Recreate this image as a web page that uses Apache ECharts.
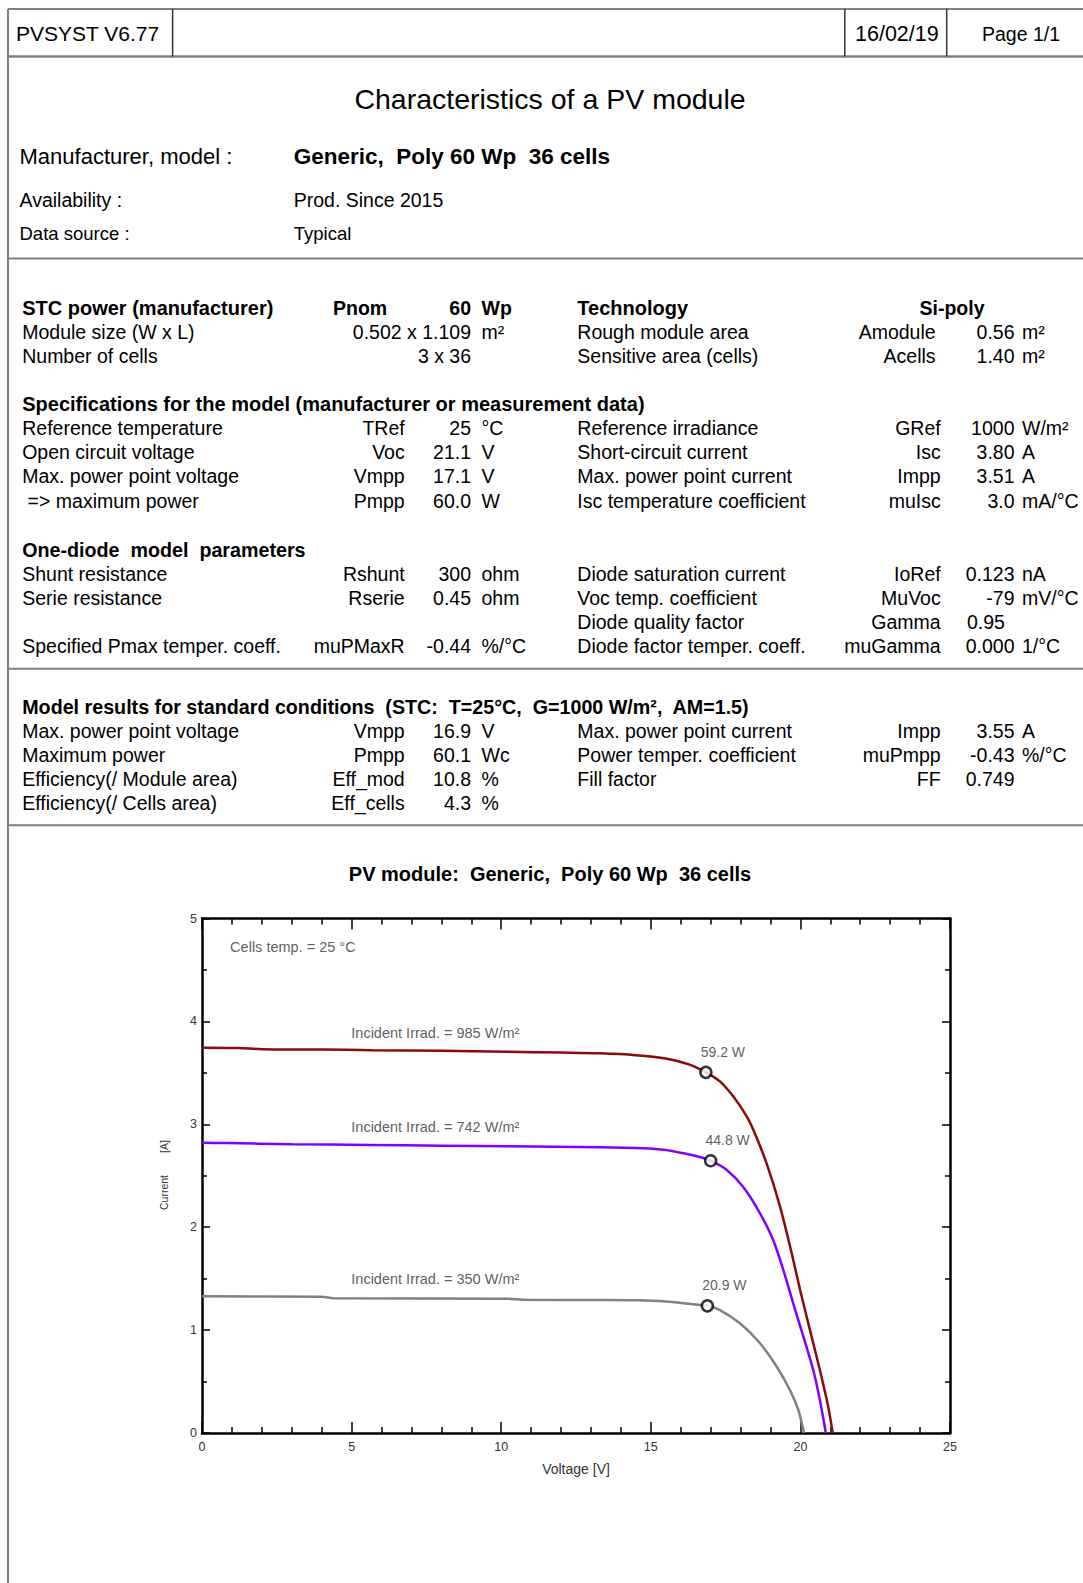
<!DOCTYPE html>
<html>
<head>
<meta charset="utf-8">
<title>Characteristics of a PV module</title>
<script src="https://cdn.jsdelivr.net/npm/echarts@6/dist/echarts.min.js"></script>
<style>
  html, body { margin: 0; padding: 0; background: #fff; }
  #page { width: 1083px; height: 1583px; }
</style>
</head>
<body>
<div id="page"></div>
<script>
// report header
var headerCells = ['PVSYST V6.77', '16/02/19', 'Page 1/1'];
var docTitle = 'Characteristics of a PV module';
var infoLabels = ['Manufacturer, model :', 'Availability :', 'Data source :'];
var infoValues = ['Generic,  Poly 60 Wp  36 cells', 'Prod. Since 2015', 'Typical'];

// parameter tables: [label, symbol, value, unit, label, symbol, value, unit]
var stcRows = [
    ['STC power (manufacturer)', 'Pnom', '60', 'Wp', 'Technology', '', 'Si-poly', ''],
    ['Module size (W x L)', '', '0.502 x 1.109', 'm²', 'Rough module area', 'Amodule', '0.56', 'm²'],
    ['Number of cells', '', '3 x 36', '', 'Sensitive area (cells)', 'Acells', '1.40', 'm²']
];
var specTitle = 'Specifications for the model (manufacturer or measurement data)';
var specRows = [
    ['Reference temperature', 'TRef', '25', '°C', 'Reference irradiance', 'GRef', '1000', 'W/m²'],
    ['Open circuit voltage', 'Voc', '21.1', 'V', 'Short-circuit current', 'Isc', '3.80', 'A'],
    ['Max. power point voltage', 'Vmpp', '17.1', 'V', 'Max. power point current', 'Impp', '3.51', 'A'],
    [' => maximum power', 'Pmpp', '60.0', 'W', 'Isc temperature coefficient', 'muIsc', '3.0', 'mA/°C']
];
var diodeTitle = 'One-diode  model  parameters';
var diodeRows = [
    ['Shunt resistance', 'Rshunt', '300', 'ohm', 'Diode saturation current', 'IoRef', '0.123', 'nA'],
    ['Serie resistance', 'Rserie', '0.45', 'ohm', 'Voc temp. coefficient', 'MuVoc', '-79', 'mV/°C'],
    ['', '', '', '', 'Diode quality factor', 'Gamma', '0.95', ''],
    ['Specified Pmax temper. coeff.', 'muPMaxR', '-0.44', '%/°C', 'Diode factor temper. coeff.', 'muGamma', '0.000', '1/°C']
];
var resultTitle = 'Model results for standard conditions  (STC:  T=25°C,  G=1000 W/m²,  AM=1.5)';
var resultRows = [
    ['Max. power point voltage', 'Vmpp', '16.9', 'V', 'Max. power point current', 'Impp', '3.55', 'A'],
    ['Maximum power', 'Pmpp', '60.1', 'Wc', 'Power temper. coefficient', 'muPmpp', '-0.43', '%/°C'],
    ['Efficiency(/ Module area)', 'Eff_mod', '10.8', '%', 'Fill factor', 'FF', '0.749', ''],
    ['Efficiency(/ Cells area)', 'Eff_cells', '4.3', '%', '', '', '', '']
];

// chart: I-V curves at three irradiances (voltage [V], current [A])
var chartTitle = 'PV module:  Generic,  Poly 60 Wp  36 cells';
var irrad985V = [0, 1.2, 2, 4, 5.7, 8, 10.2, 12, 13.3, 14.5, 15.5, 16.3, 16.84, 17.3, 17.76, 18.2, 18.43, 18.87, 19.32, 19.71, 19.99, 20.32, 20.65, 20.93, 21.08];
var irrad985I = [3.745, 3.742, 3.73, 3.727, 3.72, 3.714, 3.705, 3.697, 3.69, 3.672, 3.64, 3.58, 3.505, 3.42, 3.27, 3.08, 2.945, 2.62, 2.2, 1.746, 1.39, 1.0, 0.612, 0.256, 0];
var irrad742V = [0, 0.8, 3, 5.6, 8, 10.3, 13.3, 14.75, 15.5, 16.09, 16.6, 17.0, 17.54, 18.09, 18.65, 19.09, 19.43, 19.76, 20.1, 20.43, 20.65, 20.85];
var irrad742I = [2.82, 2.818, 2.806, 2.8, 2.792, 2.786, 2.778, 2.767, 2.75, 2.718, 2.685, 2.646, 2.556, 2.39, 2.135, 1.876, 1.584, 1.26, 0.936, 0.612, 0.32, 0];
var irrad350V = [0, 4.0, 4.4, 10.2, 10.8, 13.3, 14.64, 15.5, 16.09, 16.89, 17.31, 17.98, 18.65, 19.21, 19.65, 19.93, 20.12];
var irrad350I = [1.328, 1.325, 1.31, 1.305, 1.295, 1.293, 1.29, 1.278, 1.262, 1.236, 1.195, 1.066, 0.872, 0.644, 0.418, 0.224, 0];
var mppV = [16.84, 17.0, 16.89];
var mppI = [3.505, 2.646, 1.236];
var mppLabels = ['59.2 W', '44.8 W', '20.9 W'];
var noteV = [0.94, 4.99, 4.99, 4.99];
var noteI = [4.726, 3.892, 2.97, 1.499];
var noteTexts = ['Cells temp. = 25 °C', 'Incident Irrad. = 985 W/m²', 'Incident Irrad. = 742 W/m²', 'Incident Irrad. = 350 W/m²'];

var FONT = '"Liberation Sans", Arial, Helvetica, sans-serif';

function zip(xs, ys) {
    return xs.map(function (x, i) { return [x, ys[i]]; });
}

function txt(x, y, s, size, opts) {
    opts = opts || {};
    return {
        type: 'text', x: x, y: y, silent: true, rotation: opts.rotation || 0,
        style: {
            text: s, fontSize: size, fontFamily: FONT,
            fontWeight: opts.bold ? 'bold' : 'normal',
            fill: opts.color || '#000',
            align: opts.align || 'left', verticalAlign: 'middle'
        }
    };
}

function line(x1, y1, x2, y2, color, width) {
    return {
        type: 'line', silent: true,
        shape: { x1: x1, y1: y1, x2: x2, y2: y2 },
        style: { stroke: color, lineWidth: width }
    };
}

var graphics = [];

// frame and separators
graphics.push(line(8, 9, 1083, 9, '#808080', 2));
graphics.push(line(8, 56.5, 1083, 56.5, '#808080', 2.5));
graphics.push(line(8, 9, 8, 1583, '#808080', 2));
graphics.push(line(172.6, 9, 172.6, 56.5, '#333', 1.5));
graphics.push(line(844.8, 9, 844.8, 56.5, '#333', 1.5));
graphics.push(line(946.7, 9, 946.7, 56.5, '#333', 1.5));
graphics.push(line(8, 258.4, 1083, 258.4, '#808080', 2));
graphics.push(line(8, 668.8, 1083, 668.8, '#808080', 2));
graphics.push(line(8, 825.3, 1083, 825.3, '#808080', 2));

// header
graphics.push(txt(16, 33.5, headerCells[0], 21));
graphics.push(txt(855, 33.5, headerCells[1], 21.5));
graphics.push(txt(982, 33.5, headerCells[2], 19.5));
graphics.push(txt(550, 99, docTitle, 28.5, { align: 'center' }));

var infoY = [156, 199.5, 233.5];
var infoSize = [22, 19.5, 18.5];
infoLabels.forEach(function (s, i) {
    graphics.push(txt(19.5, infoY[i], s, infoSize[i]));
    graphics.push(txt(293.7, infoY[i], infoValues[i], i === 0 ? 22.5 : infoSize[i], { bold: i === 0 }));
});

// parameter tables
var TS = 19.5;
var leftValues = ['0.95'];   // values printed flush with the column start
function addRows(rows, y0, opts) {
    opts = opts || {};
    rows.forEach(function (r, i) {
        var y = y0 + i * 24.2;
        var b = opts.boldFirst && i === 0;
        var bs = b ? 20 : TS;
        if (r[0]) graphics.push(txt(22.2, y, r[0], bs, { bold: b }));
        if (r[1]) graphics.push(b ? txt(333, y, r[1], TS, { bold: true }) : txt(404.7, y, r[1], TS, { align: 'right' }));
        if (r[2]) graphics.push(txt(471, y, r[2], TS, { align: 'right', bold: b }));
        if (r[3]) graphics.push(txt(481.5, y, r[3], TS, { bold: b }));
        if (r[4]) graphics.push(txt(577.3, y, r[4], bs, { bold: b }));
        if (r[5]) graphics.push(txt(opts.symX || 940.7, y, r[5], TS, { align: 'right' }));
        if (r[6]) {
            if (b) graphics.push(txt(952, y, r[6], TS, { bold: true, align: 'center' }));
            else if (leftValues.indexOf(r[6]) >= 0) graphics.push(txt(967, y, r[6], TS));
            else graphics.push(txt(1014.5, y, r[6], TS, { align: 'right' }));
        }
        if (r[7]) graphics.push(txt(1022, y, r[7], TS));
    });
}
addRows(stcRows, 307.5, { boldFirst: true, symX: 935.6 });
graphics.push(txt(22.2, 403.7, specTitle, 20, { bold: true }));
addRows(specRows, 428);
graphics.push(txt(22.2, 549.5, diodeTitle, 19.7, { bold: true }));
addRows(diodeRows, 573.7);
graphics.push(txt(22.2, 706.6, resultTitle, 19.7, { bold: true }));
addRows(resultRows, 730.8);

// chart title and current axis name
graphics.push(txt(550, 874, chartTitle, 20, { bold: true, align: 'center' }));
graphics.push(txt(163.5, 1146.5, '[A]', 10.5, { rotation: Math.PI / 2, align: 'center', color: '#333' }));
graphics.push(txt(163.5, 1192.5, 'Current', 10.5, { rotation: Math.PI / 2, align: 'center', color: '#333' }));

var tickStyle = { color: '#000', width: 1.5 };
function xAxisDef(pos, labels) {
    return {
        type: 'value', min: 0, max: 25, interval: 5, position: pos,
        axisLine: { onZero: false, lineStyle: { color: '#000', width: 2.5 } },
        axisTick: { inside: true, length: 11, lineStyle: tickStyle },
        minorTick: { show: true, splitNumber: 5, length: 6, lineStyle: tickStyle },
        axisLabel: { show: labels, fontSize: 12.5, fontFamily: FONT, color: '#333', margin: 7 },
        splitLine: { show: false },
        minorSplitLine: { show: false },
        name: labels ? 'Voltage [V]' : '',
        nameLocation: 'middle', nameGap: 29,
        nameTextStyle: { fontSize: 14, fontFamily: FONT, color: '#333' }
    };
}
function yAxisDef(pos, labels) {
    return {
        type: 'value', min: 0, max: 5, interval: 1, position: pos,
        axisLine: { onZero: false, lineStyle: { color: '#000', width: 2.5 } },
        axisTick: { inside: true, length: 8, lineStyle: tickStyle },
        minorTick: { show: true, splitNumber: 2, length: 5, lineStyle: tickStyle },
        axisLabel: { show: labels, fontSize: 12.5, fontFamily: FONT, color: '#333', margin: 5 },
        splitLine: { show: false },
        minorSplitLine: { show: false }
    };
}

function curve(name, data, color) {
    return {
        name: name, type: 'line', data: data, showSymbol: false, smooth: 0.25,
        lineStyle: { color: color, width: 2.5 }, z: 3, silent: true, animation: false
    };
}

var chart = echarts.init(document.getElementById('page'), null, { renderer: 'svg' });
chart.setOption({
    animation: false,
    backgroundColor: '#fff',
    graphic: graphics,
    grid: { left: 202, top: 918.5, width: 748, height: 514.5 },
    xAxis: [xAxisDef('bottom', true), xAxisDef('top', false)],
    yAxis: [yAxisDef('left', true), yAxisDef('right', false)],
    series: [
        curve('985 W/m²', zip(irrad985V, irrad985I), '#8b0a0a'),
        curve('742 W/m²', zip(irrad742V, irrad742I), '#8000ff'),
        curve('350 W/m²', zip(irrad350V, irrad350I), '#808080'),
        {
            name: 'MPP', type: 'scatter', z: 5, silent: true,
            data: mppV.map(function (v, i) { return [v, mppI[i], mppLabels[i]]; }),
            symbol: 'circle', symbolSize: 11,
            itemStyle: { color: '#fff', borderColor: '#000', borderWidth: 2.5 },
            label: {
                show: true, position: 'top', offset: [17, -2],
                formatter: function (p) { return p.value[2]; },
                fontSize: 14, fontFamily: FONT, color: '#333'
            }
        },
        {
            name: 'notes', type: 'scatter', z: 4, silent: true,
            data: noteV.map(function (v, i) { return [v, noteI[i], noteTexts[i]]; }),
            symbolSize: 0,
            label: {
                show: true, position: 'right', distance: 0,
                formatter: function (p) { return p.value[2]; },
                fontSize: 14.5, fontFamily: FONT, color: '#333'
            }
        }
    ]
});
</script>
</body>
</html>
